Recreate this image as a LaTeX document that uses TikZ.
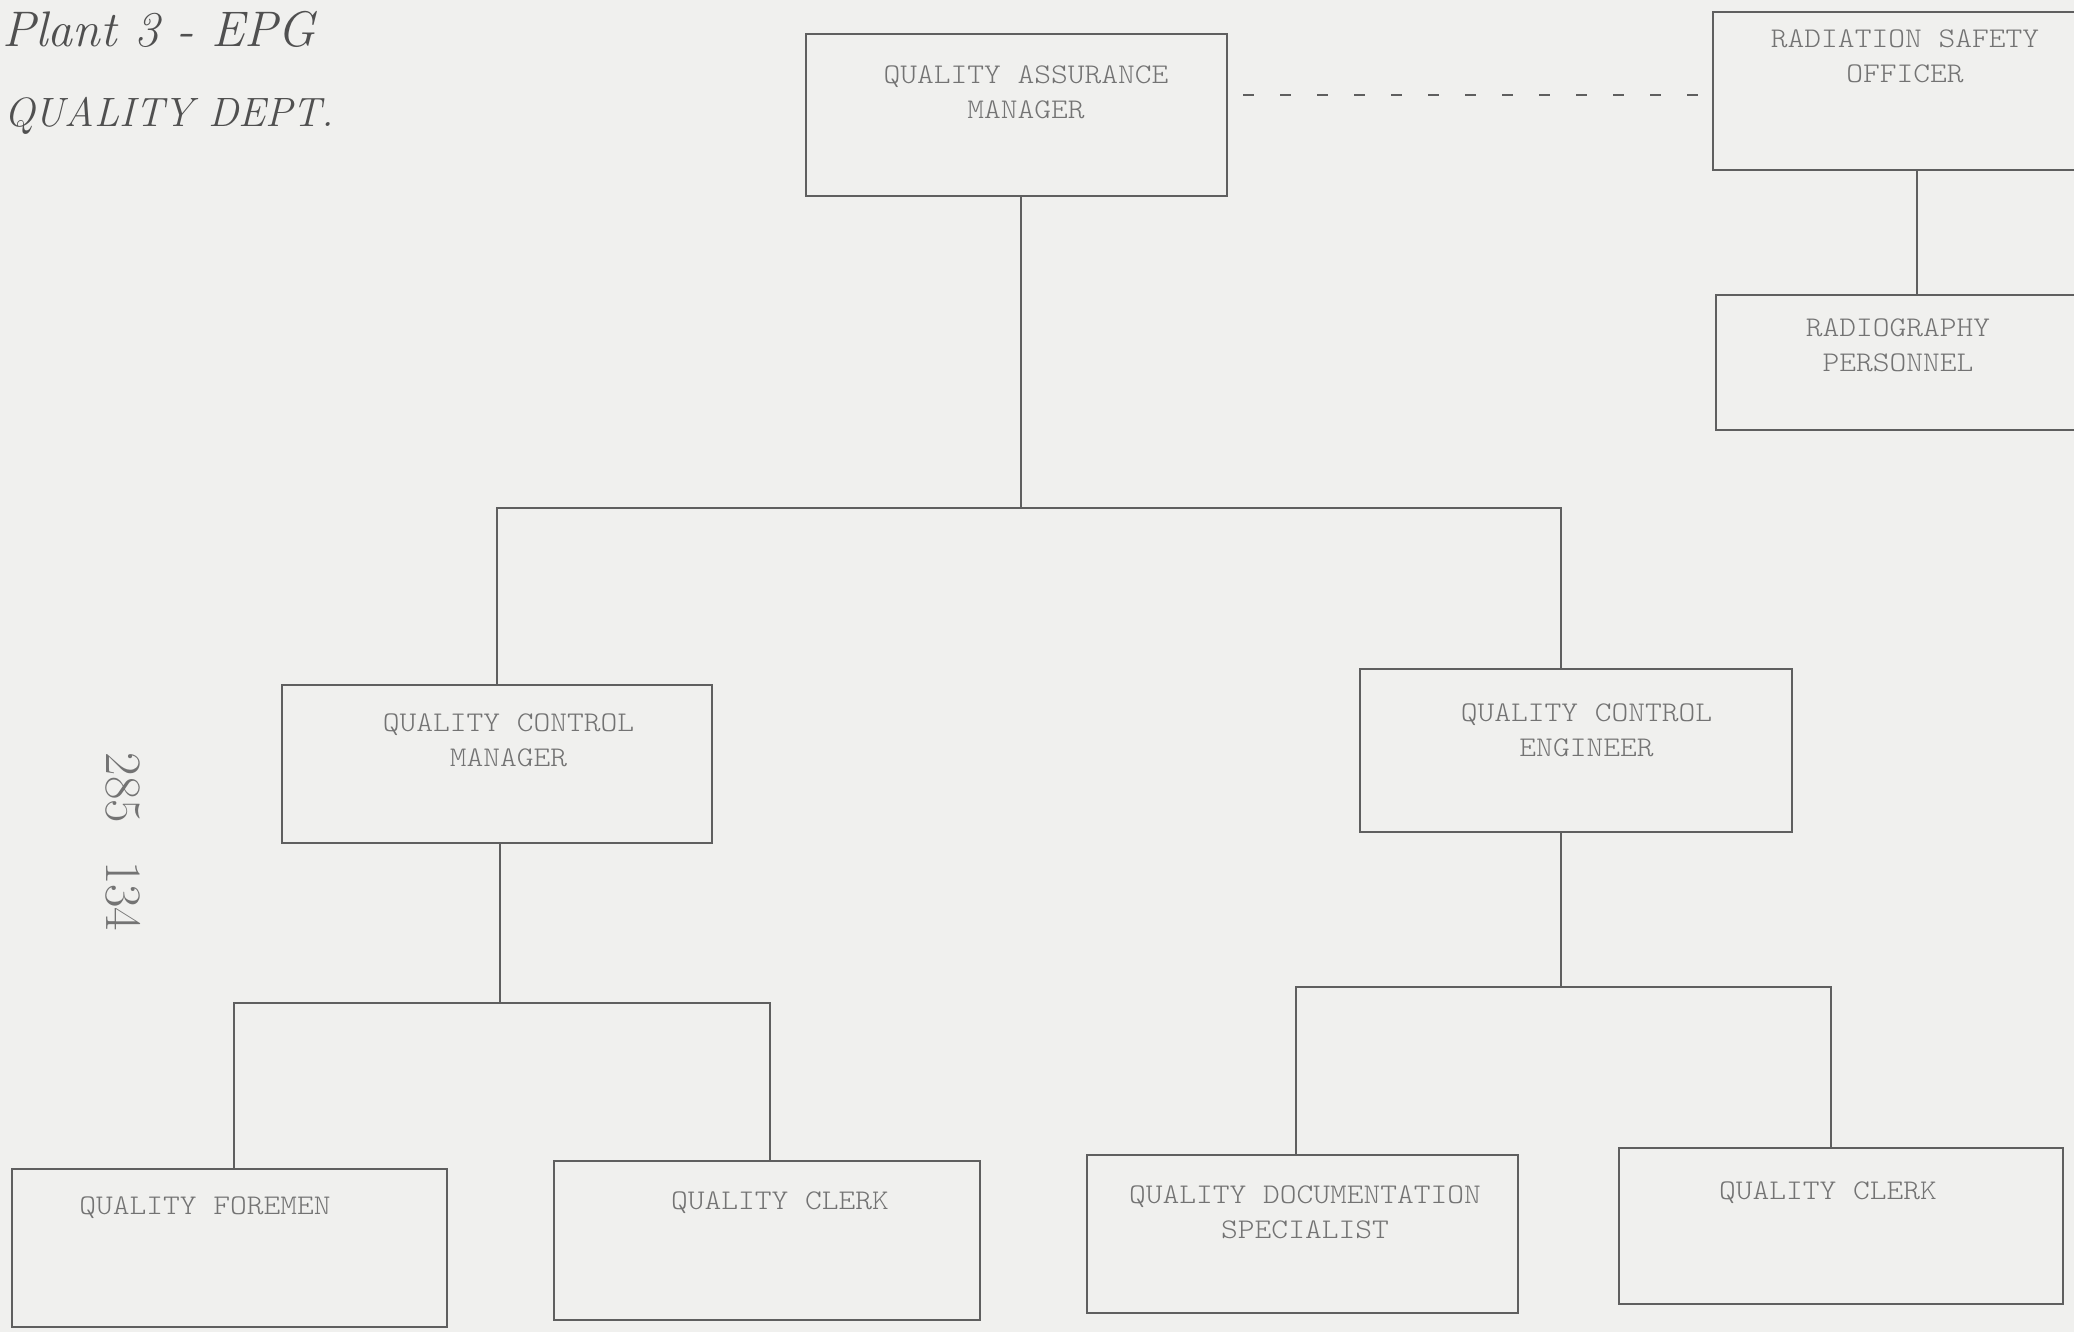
\documentclass[tikz,border=0pt]{standalone}
\usepackage{fontspec}
\newfontfamily\typew{Latin Modern Mono Light}[FakeStretch=1.12]
\definecolor{paper}{RGB}{240,240,238}
\definecolor{ink}{RGB}{95,95,95}
\definecolor{type}{RGB}{115,115,115}
\definecolor{pencil}{RGB}{80,80,80}
\begin{document}
\begin{tikzpicture}[x=1pt,y=-1pt,
  box/.style={draw=ink, line width=1.5pt, inner sep=0pt, rectangle},
  lbl/.style={anchor=north, inner sep=0pt, align=center, text=type,
    font=\typew\fontsize{28.5}{35}\selectfont},
  conn/.style={draw=ink, line width=1.5pt},
  hand/.style={anchor=base west, inner sep=0pt, text=pencil}]
\clip (0,0) rectangle (2074,1332);
\fill[paper] (0,0) rectangle (2074,1332);

% boxes
\node[box, minimum width=421pt, minimum height=162pt] (qa)  at (1016.5,115) {};
\node[box, minimum width=377pt, minimum height=158pt] (rso) at (1901.5,91) {};
\node[box, minimum width=374pt, minimum height=135pt] (rad) at (1903,362.5) {};
\node[box, minimum width=430pt, minimum height=158pt] (qcm) at (497,764) {};
\node[box, minimum width=432pt, minimum height=163pt] (qce) at (1576,750.5) {};
\node[box, minimum width=435pt, minimum height=158pt] (qf)  at (229.5,1248) {};
\node[box, minimum width=426pt, minimum height=159pt] (qcl) at (767,1240.5) {};
\node[box, minimum width=431pt, minimum height=158pt] (qds) at (1302.5,1234) {};
\node[box, minimum width=444pt, minimum height=156pt] (qcr) at (1841,1226) {};

% labels
\node[lbl] (tqa)  at (1026,66)   {QUALITY ASSURANCE\\MANAGER};
\node[lbl] (trso) at (1905,30)   {RADIATION SAFETY\\OFFICER};
\node[lbl] (trad) at (1898,319)  {RADIOGRAPHY\\PERSONNEL};
\node[lbl] (tqcm) at (508.5,714) {QUALITY CONTROL\\MANAGER};
\node[lbl] (tqce) at (1586.5,704) {QUALITY CONTROL\\ENGINEER};
\node[lbl] (tqf)  at (205,1197)  {QUALITY FOREMEN};
\node[lbl] (tqcl) at (780,1192)  {QUALITY CLERK};
\node[lbl] (tqds) at (1305,1186) {QUALITY DOCUMENTATION\\SPECIALIST};
\node[lbl] (tqcr) at (1828,1182) {QUALITY CLERK};

% connectors
\coordinate (b1) at (1021,508);
\coordinate (b2) at (500,1003);
\coordinate (b3) at (1561,987);
\coordinate (d1) at (1243,95);
\draw[conn] ([xshift=4.5pt]qa.south) -- (b1);
\draw[conn] (qcm.north) |- (b1) -| ([xshift=-15pt]qce.north);
\draw[conn] ([xshift=3pt]qcm.south) -- (b2);
\draw[conn] ([xshift=4.5pt]qf.north) |- (b2) -| ([xshift=3pt]qcl.north);
\draw[conn] ([xshift=-15pt]qce.south) -- (b3);
\draw[conn] ([xshift=-6.5pt]qds.north) |- (b3) -| ([xshift=-10pt]qcr.north);
\draw[conn] ([xshift=15.5pt]rso.south) -- ([xshift=14pt]rad.north);
\draw[conn, dash pattern=on 11pt off 26pt] (d1) -- (rso.west |- d1);

% handwritten notes
\node[hand, font=\itshape\fontsize{50}{54}\selectfont] (h1) at (2,47) {Plant 3 - EPG};
\node[hand, font=\itshape\fontsize{41}{46}\selectfont] (h2) at (4,127) {QUALITY DEPT.};
\node[anchor=center, inner sep=0pt, rotate=-90, text=type,
  font=\fontsize{51}{54}\selectfont] (num) at (123,842) {285\hspace{38pt}134};
\end{tikzpicture}
\end{document}
